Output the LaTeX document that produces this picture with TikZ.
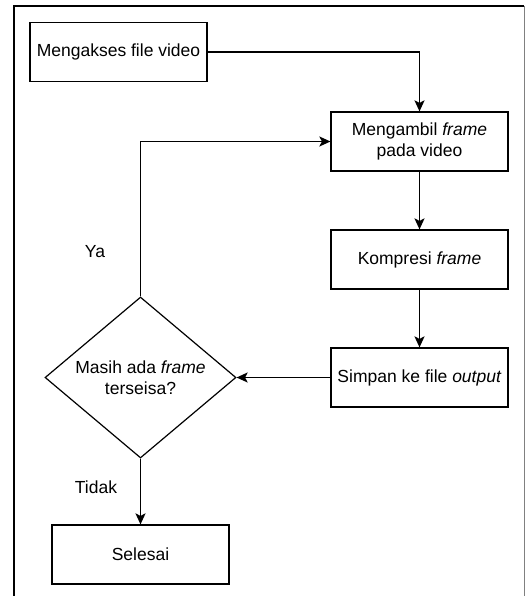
\documentclass[tikz,border=0pt]{standalone}
\usepackage{fontspec}
\setmainfont{Liberation Sans}
\usetikzlibrary{shapes.geometric,arrows.meta}
\begin{document}
\begin{tikzpicture}[x=1pt,y=-1pt,
  every node/.style={font=\fontsize{17.5}{21}\selectfont},
  procbox/.style={draw,line width=1.2pt,minimum width=177pt,minimum height=59pt,align=center,inner sep=0pt},
  decide/.style={draw,line width=1.2pt,diamond,minimum width=191pt,minimum height=161pt,aspect=1.186,align=center,inner sep=0pt},
  flow/.style={line width=1.5pt,-{Stealth[length=11pt,width=10pt,inset=2.5pt]}},
  lbl/.style={inner sep=0pt}]
\useasboundingbox (0,0) rectangle (526,596);
\draw[line width=2pt] (14,596) -- (14,6) -- (524,6);
\draw[line width=1.5pt,gray] (524.5,6) -- (524.5,596);
\node[procbox] (a) at (118.5,52) {Mengakses file video};
\node[procbox] (b) at (419.5,141.5) {Mengambil \textit{frame}\\pada video};
\node[procbox] (c) at (419.5,259.5) {Kompresi \textit{frame}};
\node[procbox] (d) at (419.5,377.5) {Simpan ke file \textit{output}};
\node[decide] (e) at (140.5,377.5) {Masih ada \textit{frame}\\terseisa?};
\node[procbox] (f) at (140.5,554.5) {Selesai};
\coordinate (ab) at (419.5,52);
\coordinate (eb) at (140.5,141.5);
\draw[flow] (a.east) -- (ab) -- (b.north);
\draw[flow] (b) -- (c);
\draw[flow] (c) -- (d);
\draw[flow] (d.west) -- (e.east);
\draw[flow] (e.north) -- (eb) -- (b.west);
\draw[flow] (e.south) -- (f.north);
\node[lbl] (ya) at (95,252) {Ya};
\node[lbl] (tidak) at (96,487) {Tidak};
\end{tikzpicture}
\end{document}
